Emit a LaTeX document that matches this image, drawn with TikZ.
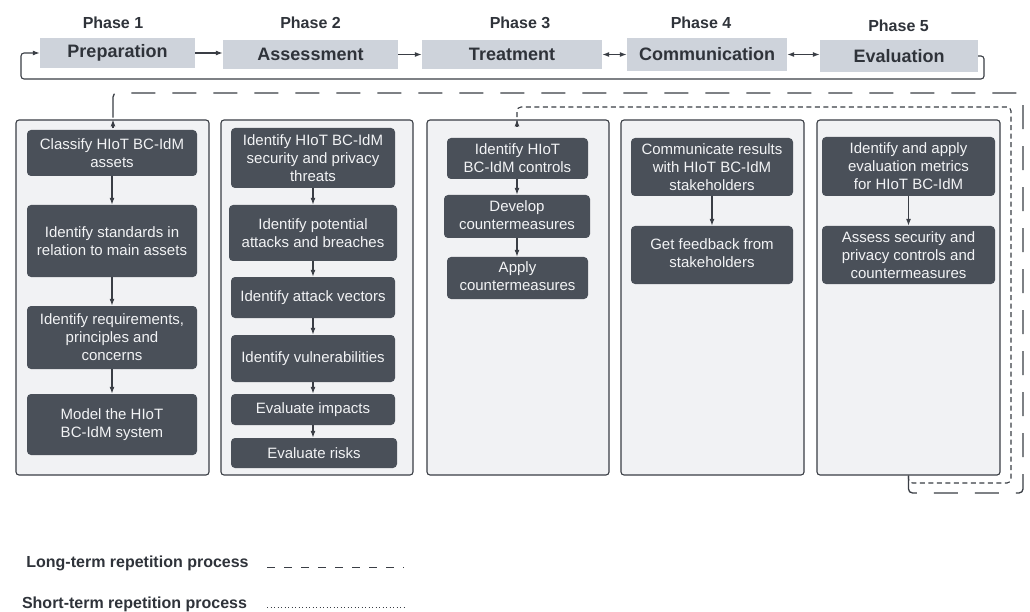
\documentclass[tikz,border=0pt]{standalone}
\usepackage{fontspec}
\setmainfont{Liberation Sans}
\usetikzlibrary{arrows.meta}
\definecolor{phasefill}{HTML}{CED3DB}
\definecolor{nodefill}{HTML}{4A5059}
\definecolor{colfill}{HTML}{F1F2F4}
\definecolor{linec}{HTML}{3A3E45}
\definecolor{txt}{HTML}{2F333A}
\definecolor{ntxt}{HTML}{F2F3F5}
\begin{document}
\begin{tikzpicture}[x=1pt,y=-1pt,
  phasebox/.style={fill=phasefill, draw=none, inner sep=0pt, font=\fontsize{18}{20}\selectfont\bfseries, text=txt},
  phaselbl/.style={font=\fontsize{16}{18}\selectfont\bfseries, text=txt, inner sep=0pt},
  colbox/.style={fill=colfill, draw=linec, line width=1.1pt, rounded corners=3pt, inner sep=0pt},
  dk/.style={fill=nodefill, draw=none, rounded corners=4pt, text=ntxt, align=center, font=\fontsize{15}{18}\selectfont, inner sep=0pt},
  arr/.style={draw=linec, line width=1.1pt, -{Latex[length=7pt,width=5pt]}},
  darr/.style={draw=linec, line width=1.1pt, {Latex[length=7pt,width=5pt]}-{Latex[length=7pt,width=5pt]}},
  longdash/.style={draw=linec, line width=1.3pt, dash pattern=on 24pt off 17pt, rounded corners=4pt},
  shortdash/.style={draw=linec, line width=1.1pt, dash pattern=on 5pt off 3.5pt, rounded corners=4pt},
  legtxt/.style={font=\fontsize{16}{18}\selectfont\bfseries, text=txt, inner sep=0pt}
]
\useasboundingbox[fill=white] (0,0) rectangle (1030,612);

% phase labels
\node[phaselbl] (p1) at (113,23) {Phase 1};
\node[phaselbl] (p2) at (310.5,23) {Phase 2};
\node[phaselbl] (p3) at (520,23) {Phase 3};
\node[phaselbl] (p4) at (701,23) {Phase 4};
\node[phaselbl] (p5) at (898.5,26) {Phase 5};

% phase boxes
\node[phasebox, minimum width=155pt, minimum height=30pt] (prep) at (117.5,53) {Preparation};
\node[phasebox, minimum width=175pt, minimum height=29pt] (assess) at (310.5,54.5) {Assessment};
\node[phasebox, minimum width=180pt, minimum height=29pt] (treat) at (512,54.5) {Treatment};
\node[phasebox, minimum width=160pt, minimum height=33pt] (comm) at (707,54.5) {Communication};
\node[phasebox, minimum width=158pt, minimum height=32pt] (eval) at (899,56) {Evaluation};

\draw[arr] (prep.east) -- (prep.east -| assess.west);
\draw[arr] (assess.east) -- (assess.east -| treat.west);
\draw[darr] (treat.east) -- (treat.east -| comm.west);
\draw[darr] (comm.east) -- (comm.east -| eval.west);

% feedback loop
\coordinate (fb1) at (984,79);
\coordinate (fb2) at (21,79);
\draw[arr, rounded corners=3pt] (eval.east) -| (fb1) -- (fb2) |- (prep.west);

% column boxes
\node[colbox, minimum width=193pt, minimum height=355pt] (col1) at (112.5,297.5) {};
\node[colbox, minimum width=192pt, minimum height=355pt] (col2) at (317,297.5) {};
\node[colbox, minimum width=182pt, minimum height=355pt] (col3) at (518,297.5) {};
\node[colbox, minimum width=183pt, minimum height=355pt] (col4) at (712.5,297.5) {};
\node[colbox, minimum width=183pt, minimum height=355pt] (col5) at (908.5,297.5) {};

% repetition loops
\coordinate (l1) at (908.5,493);
\coordinate (l2) at (1023,493);
\coordinate (l3) at (1023,93);
\coordinate (l4) at (113,93);
\draw[longdash] (col5.south) -- (l1) -- (l2) -- (l3) -- (l4) -- ([yshift=-8pt]col1.north -| l4);
\draw[arr] ([yshift=-9pt]col1.north -| l4) -- (col1.north -| l4);
\coordinate (s1) at (908.5,483);
\coordinate (s2) at (1011,483);
\coordinate (s3) at (1011,107);
\coordinate (s4) at (517,107);
\draw[shortdash] (col5.south) -- (s1) -- (s2) -- (s3) -- (s4) -- ([yshift=-6pt]col3.north -| s4);
\draw[arr] ([yshift=-7pt]col3.north -| s4) -- (col3.north -| s4);

% column 1
\node[dk, minimum width=170pt, minimum height=46pt] (c1a) at (112,153) {Classify HIoT BC-IdM\\assets};
\node[dk, minimum width=170pt, minimum height=72pt] (c1b) at (112,241) {Identify standards in\\relation to main assets};
\node[dk, minimum width=170pt, minimum height=63pt] (c1c) at (112,337.5) {Identify requirements,\\principles and\\concerns};
\node[dk, minimum width=170pt, minimum height=61pt] (c1d) at (112,424.5) {Model the HIoT\\BC-IdM system};
\draw[arr] (c1a) -- (c1b);
\draw[arr] (c1b) -- (c1c);
\draw[arr] (c1c) -- (c1d);

% column 2
\node[dk, minimum width=164pt, minimum height=60pt] (c2a) at (313,158) {Identify HIoT BC-IdM\\security and privacy\\threats};
\node[dk, minimum width=168pt, minimum height=56pt] (c2b) at (313,233) {Identify potential\\attacks and breaches};
\node[dk, minimum width=164pt, minimum height=41pt] (c2c) at (313,297.5) {Identify attack vectors};
\node[dk, minimum width=164pt, minimum height=47pt] (c2d) at (313,358.5) {Identify vulnerabilities};
\node[dk, minimum width=164pt, minimum height=31pt] (c2e) at (313,409.5) {Evaluate impacts};
\node[dk, minimum width=166pt, minimum height=30pt] (c2f) at (314,453) {Evaluate risks};
\draw[arr] (c2a.south -| c2b.north) -- (c2b.north);
\draw[arr] (c2b.south) -- (c2c.north);
\draw[arr] (c2c.south) -- (c2d.north);
\draw[arr] (c2d.south) -- (c2e.north);
\draw[arr] (c2e.south) -- (c2e.south |- c2f.north);

% column 3
\node[dk, minimum width=141pt, minimum height=41pt] (c3a) at (517.5,158.5) {Identify HIoT\\BC-IdM controls};
\node[dk, minimum width=146pt, minimum height=43pt] (c3b) at (517,216.5) {Develop\\countermeasures\vphantom{p}};
\node[dk, minimum width=141pt, minimum height=42pt] (c3c) at (517.5,278) {Apply\\countermeasures\vphantom{p}};
\draw[arr] (c3a.south -| c3b.north) -- (c3b.north);
\draw[arr] (c3b.south) -- (c3b.south |- c3c.north);

% column 4
\node[dk, minimum width=162pt, minimum height=58pt] (c4a) at (712,167) {Communicate results\\with HIoT BC-IdM\\stakeholders};
\node[dk, minimum width=162pt, minimum height=58pt] (c4b) at (712,255) {Get feedback from\\stakeholders\vphantom{p}};
\draw[arr] (c4a) -- (c4b);

% column 5
\node[dk, minimum width=173pt, minimum height=59pt] (c5a) at (908.5,166.5) {Identify and apply\\evaluation metrics\\for HIoT BC-IdM};
\node[dk, minimum width=173pt, minimum height=58pt] (c5b) at (908.5,255) {Assess security and\\privacy controls and\\countermeasures};
\draw[arr] (c5a) -- (c5b);

% legend
\node[legtxt] (leg1) at (137.5,563) {Long-term repetition process};
\node[legtxt] (leg2) at (134.5,604) {Short-term repetition process};
\coordinate (lg1a) at (267,567);
\coordinate (lg1b) at (404,567);
\coordinate (lg2a) at (267,607);
\coordinate (lg2b) at (404,607);
\draw[draw=linec, line width=1pt, dash pattern=on 8pt off 9pt] (lg1a) -- (lg1b);
\draw[draw=linec, line width=1pt, dash pattern=on 1pt off 2.5pt] (lg2a) -- (lg2b);
\end{tikzpicture}
\end{document}
